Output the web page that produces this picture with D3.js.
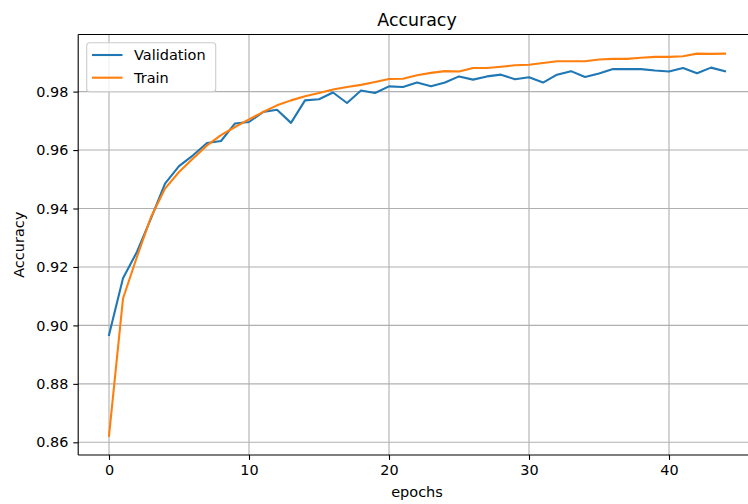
<!DOCTYPE html>
<html>
<head>
<meta charset="utf-8">
<script src="https://cdn.jsdelivr.net/npm/d3@7"></script>
<style>
  html, body { margin: 0; padding: 0; background: #fff; }
  svg { display: block; font-family: "DejaVu Sans", sans-serif; }
</style>
</head>
<body>
<svg id="chart" width="748" height="504"></svg>
<script>
// Per-epoch accuracy of the model
const epochs = d3.range(0, 45);
const validation = [
  0.8967, 0.9161, 0.9252, 0.9366, 0.9485, 0.9545, 0.9582, 0.9624, 0.9631, 0.9691,
  0.9696, 0.9730, 0.9738, 0.9693, 0.9770, 0.9774, 0.9797, 0.9761, 0.9804, 0.9795,
  0.9818, 0.9816, 0.9831, 0.9818, 0.9831, 0.9852, 0.9841, 0.9852, 0.9858, 0.9842,
  0.9849, 0.9831, 0.9858, 0.9870, 0.9850, 0.9862, 0.9877, 0.9877, 0.9877, 0.9872,
  0.9869, 0.9881, 0.9863, 0.9882, 0.9870
];
const train = [
  0.8622, 0.9092, 0.9235, 0.9371, 0.9468, 0.9525, 0.9571, 0.9616, 0.9651, 0.9679,
  0.9705, 0.9730, 0.9753, 0.9770, 0.9784, 0.9795, 0.9807, 0.9816, 0.9823, 0.9833,
  0.9843, 0.9844, 0.9856, 0.9864, 0.9870, 0.9869, 0.9881, 0.9881, 0.9885, 0.9890,
  0.9892, 0.9898, 0.9904, 0.9904, 0.9904, 0.9910, 0.9912, 0.9912, 0.9916, 0.9919,
  0.9919, 0.9921, 0.9930, 0.9929, 0.9930
];
const xTicks = [0, 10, 20, 30, 40];
const yTicks = [0.86, 0.88, 0.90, 0.92, 0.94, 0.96, 0.98];
const seriesNames = ["Validation", "Train"];
const seriesColors = ["#1f77b4", "#ff7f0e"];

const svg = d3.select("#chart");
const plot = { left: 78.2, right: 755.8, top: 34.5, bottom: 455 };

// Axis limits padded by 5% of the data span on each side
const xSpan = d3.extent(epochs);
const xPad = (xSpan[1] - xSpan[0]) * 0.05;
const allVals = validation.concat(train);
const ySpan = d3.extent(allVals);
const yPad = (ySpan[1] - ySpan[0]) * 0.05;

const x = d3.scaleLinear().domain([xSpan[0] - xPad, xSpan[1] + xPad]).range([plot.left, plot.right]);
const y = d3.scaleLinear().domain([ySpan[0] - yPad, ySpan[1] + yPad]).range([plot.bottom, plot.top]);

svg.append("defs").append("clipPath").attr("id", "plotClip")
  .append("rect")
  .attr("x", plot.left).attr("y", plot.top)
  .attr("width", plot.right - plot.left).attr("height", plot.bottom - plot.top);

// Grid
const grid = svg.append("g").attr("clip-path", "url(#plotClip)");
grid.selectAll("line.gx").data(xTicks).join("line")
  .attr("x1", d => x(d)).attr("x2", d => x(d))
  .attr("y1", plot.top).attr("y2", plot.bottom)
  .attr("stroke", "#b0b0b0").attr("stroke-width", 1.1);
grid.selectAll("line.gy").data(yTicks).join("line")
  .attr("y1", d => y(d)).attr("y2", d => y(d))
  .attr("x1", plot.left).attr("x2", plot.right)
  .attr("stroke", "#b0b0b0").attr("stroke-width", 1.1);

// Lines
const line = d3.line().x((d, i) => x(epochs[i])).y(d => y(d));
const lines = svg.append("g").attr("clip-path", "url(#plotClip)");
[validation, train].forEach((series, k) => {
  lines.append("path")
    .datum(series)
    .attr("d", line)
    .attr("fill", "none")
    .attr("stroke", seriesColors[k])
    .attr("stroke-width", 2.1)
    .attr("stroke-linejoin", "round")
    .attr("stroke-linecap", "square");
});

// Axes
const xAxis = d3.axisBottom(x).tickValues(xTicks).tickFormat(d3.format("d"))
  .tickSizeInner(4.9).tickSizeOuter(0).tickPadding(4.9);
const yAxis = d3.axisLeft(y).tickValues(yTicks).tickFormat(d3.format(".2f"))
  .tickSizeInner(4.9).tickSizeOuter(0).tickPadding(4.9);

const gx = svg.append("g").attr("transform", `translate(0,${plot.bottom})`).call(xAxis);
const gy = svg.append("g").attr("transform", `translate(${plot.left},0)`).call(yAxis);
[gx, gy].forEach(g => {
  g.select(".domain").remove();
  g.selectAll(".tick line").attr("stroke", "#000").attr("stroke-width", 1.1);
  g.selectAll(".tick text").attr("fill", "#000").attr("font-size", 14.4)
    .attr("font-family", "DejaVu Sans");
});
gx.selectAll(".tick text").attr("dy", "0.71em");

// Spines
svg.append("line").attr("x1", plot.left).attr("x2", plot.left)
  .attr("y1", plot.top).attr("y2", plot.bottom).attr("stroke", "#000").attr("stroke-width", 1.1);
svg.append("line").attr("x1", plot.left).attr("x2", plot.right)
  .attr("y1", plot.bottom).attr("y2", plot.bottom).attr("stroke", "#000").attr("stroke-width", 1.1);
svg.append("line").attr("x1", plot.left).attr("x2", plot.right)
  .attr("y1", plot.top).attr("y2", plot.top).attr("stroke", "#000").attr("stroke-width", 1.1);
svg.append("line").attr("x1", plot.right).attr("x2", plot.right)
  .attr("y1", plot.top).attr("y2", plot.bottom).attr("stroke", "#000").attr("stroke-width", 1.1);

// Title and axis labels
const midX = (plot.left + plot.right) / 2;
svg.append("text").attr("x", midX).attr("y", 26)
  .attr("text-anchor", "middle").attr("font-size", 17.4).attr("fill", "#000")
  .text("Accuracy");
svg.append("text").attr("x", midX).attr("y", 497)
  .attr("text-anchor", "middle").attr("font-size", 14.5).attr("fill", "#000")
  .text("epochs");
svg.append("text")
  .attr("transform", `translate(24,${(plot.top + plot.bottom) / 2}) rotate(-90)`)
  .attr("text-anchor", "middle").attr("font-size", 14.5).attr("fill", "#000")
  .text("Accuracy");

// Legend
const legend = svg.append("g");
legend.append("rect")
  .attr("x", 86.7).attr("y", 42.7).attr("width", 129).attr("height", 49)
  .attr("rx", 3).attr("ry", 3)
  .attr("fill", "#fff").attr("fill-opacity", 0.8)
  .attr("stroke", "#cccccc").attr("stroke-width", 1.1);
seriesNames.forEach((name, k) => {
  const ly = 55 + k * 22.7;
  legend.append("line")
    .attr("x1", 92).attr("x2", 122.5).attr("y1", ly).attr("y2", ly)
    .attr("stroke", seriesColors[k]).attr("stroke-width", 2.1);
  legend.append("text")
    .attr("x", 134).attr("y", ly).attr("dy", "0.36em")
    .attr("font-size", 14.5).attr("fill", "#000")
    .text(name);
});
</script>
</body>
</html>
